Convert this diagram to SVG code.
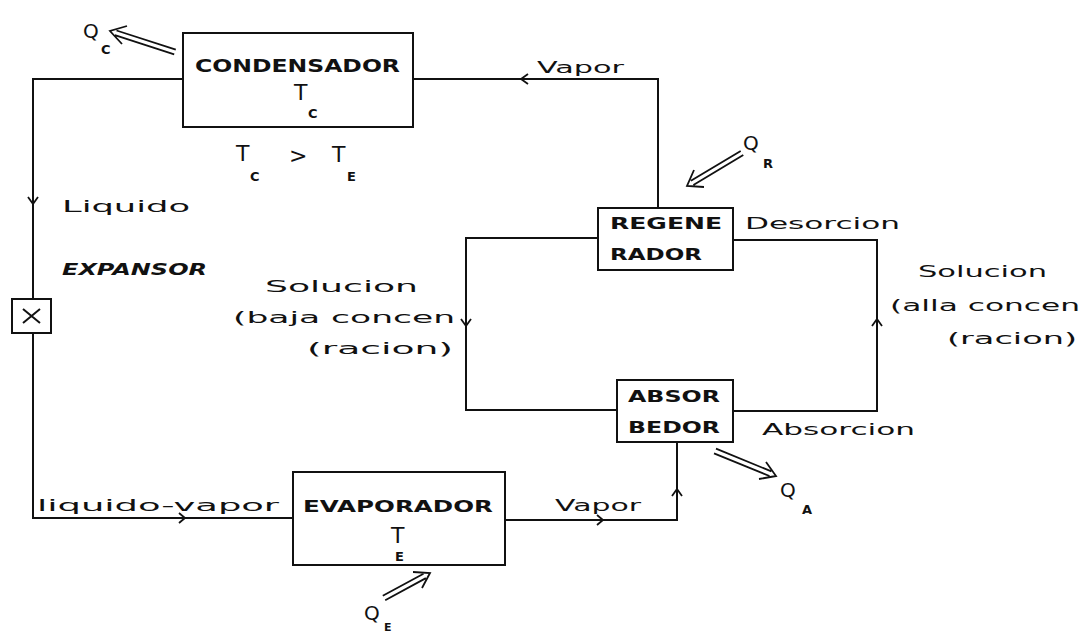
<svg xmlns="http://www.w3.org/2000/svg" width="1085" height="632" viewBox="0 0 1085 632">
<style>
.box{fill:#fff;stroke:#111;stroke-width:2}
.ln{fill:none;stroke:#111;stroke-width:2}
.ah{fill:none;stroke:#111;stroke-width:1.8;stroke-linejoin:miter}
.heat{fill:none;stroke:#111;stroke-width:1.8}
text{font-family:"DejaVu Sans","Liberation Sans",sans-serif;fill:#111;font-weight:bold}
.cap{font-size:17px}
.lab{font-size:16px;font-weight:normal}
.T{font-size:22px;font-weight:normal}
.sub{font-size:13px}
</style>
<rect width="1085" height="632" fill="#fff"/>
<g id="connectors">
<path class="ln" d="M183,79 H33 V299 M33,333 V518 H293"/>
<path class="ln" d="M413,79 H658 V208"/>
<path class="ln" d="M598,238 H466 V410 H617"/>
<path class="ln" d="M733,240 H877 V411 H733"/>
<path class="ln" d="M505,520 H677 V442"/>
<path class="ah" d="M528,74 L521,79 L528,84"/>
<path class="ah" d="M28,197 L33,204 L38,197"/>
<path class="ah" d="M179,513 L185,518 L179,523"/>
<path class="ah" d="M597,515 L603,520 L597,525"/>
<path class="ah" d="M672,496 L677,489 L682,496"/>
<path class="ah" d="M461,319 L466,326 L471,319"/>
<path class="ah" d="M872,326 L877,319 L882,326"/>
</g>
<g id="heat-QC">
<path class="heat" d="M175.8,49.6 L116.5,30.5 M174.2,54.4 L114.9,35.2 M127,26 L110,31 L122,44"/>
<text x="83" y="38" class="T" style="font-size:20px">Q</text>
<text x="101" y="54" class="sub">C</text>
</g>
<g id="heat-QR">
<path class="heat" d="M743.3,155.1 L693.4,185 M740.7,150.9 L690.9,180.8 M704,187 L687,186 L694,170"/>
<text x="743" y="150" class="T" style="font-size:20px">Q</text>
<text x="763" y="168" class="sub">R</text>
</g>
<g id="heat-QA">
<path class="heat" d="M714,453.3 L769.5,476 M716,448.7 L771.4,471.4 M759,479 L776,476 L766,462"/>
<text x="780" y="497" class="T" style="font-size:20px">Q</text>
<text x="802" y="514" class="sub">A</text>
</g>
<g id="heat-QE">
<path class="heat" d="M385.2,600.2 L425.9,578.1 M382.8,595.8 L423.5,573.7 M422,588 L430,573 L413,572"/>
<text x="364" y="620" class="T" style="font-size:20px">Q</text>
<text x="384" y="631" class="sub" style="font-size:11px">E</text>
</g>
<g id="condensador">
<rect class="box" x="183" y="33" width="230" height="94"/>
<text x="195" y="72" class="cap" textLength="205" lengthAdjust="spacingAndGlyphs">CONDENSADOR</text>
<text x="294" y="100" class="T">T</text>
<text x="308" y="118" class="sub">C</text>
</g>
<g id="tc-te">
<text x="236" y="161" class="T">T</text>
<text x="250" y="181" class="sub">C</text>
<text x="289" y="163" class="T">&gt;</text>
<text x="332" y="162" class="T">T</text>
<text x="347" y="181" class="sub">E</text>
</g>
<g id="regenerador">
<rect class="box" x="598" y="208" width="135" height="62"/>
<text x="610" y="229" class="cap" style="font-size:15px" textLength="112" lengthAdjust="spacingAndGlyphs">REGENE</text>
<text x="610" y="260" class="cap" style="font-size:15px" textLength="92" lengthAdjust="spacingAndGlyphs">RADOR</text>
</g>
<g id="absorbedor">
<rect class="box" x="617" y="380" width="116" height="62"/>
<text x="628" y="402" class="cap" style="font-size:15px" textLength="92" lengthAdjust="spacingAndGlyphs">ABSOR</text>
<text x="628" y="433" class="cap" style="font-size:15px" textLength="92" lengthAdjust="spacingAndGlyphs">BEDOR</text>
</g>
<g id="evaporador">
<rect class="box" x="293" y="472" width="212" height="93"/>
<text x="303" y="512" class="cap" style="font-size:16px" textLength="190" lengthAdjust="spacingAndGlyphs">EVAPORADOR</text>
<text x="391" y="543" class="T">T</text>
<text x="395" y="561" class="sub">E</text>
</g>
<g id="expansor">
<rect class="box" x="12" y="299" width="39" height="34"/>
<path class="ln" d="M23,309 L40,323 M40,309 L23,323"/>
<text x="62" y="275" class="cap" style="font-size:15px;font-style:italic" textLength="145" lengthAdjust="spacingAndGlyphs">EXPANSOR</text>
</g>
<g id="labels">
<text x="537" y="73" class="lab" textLength="87" lengthAdjust="spacingAndGlyphs">Vapor</text>
<text x="62" y="212" class="lab" textLength="128" lengthAdjust="spacingAndGlyphs">Liquido</text>
<text x="745" y="229" class="lab" textLength="155" lengthAdjust="spacingAndGlyphs">Desorcion</text>
<text x="265" y="292" class="lab" textLength="153" lengthAdjust="spacingAndGlyphs">Solucion</text>
<text x="233" y="323" class="lab" textLength="222" lengthAdjust="spacingAndGlyphs">(baja concen</text>
<text x="307" y="354" class="lab" textLength="146" lengthAdjust="spacingAndGlyphs">(racion)</text>
<text x="918" y="277" class="lab" textLength="129" lengthAdjust="spacingAndGlyphs">Solucion</text>
<text x="890" y="311" class="lab" textLength="190" lengthAdjust="spacingAndGlyphs">(alla concen</text>
<text x="947" y="344" class="lab" textLength="130" lengthAdjust="spacingAndGlyphs">(racion)</text>
<text x="762" y="435" class="lab" textLength="153" lengthAdjust="spacingAndGlyphs">Absorcion</text>
<text x="37" y="511" class="lab" textLength="242" lengthAdjust="spacingAndGlyphs">liquido-vapor</text>
<text x="555" y="511" class="lab" textLength="86" lengthAdjust="spacingAndGlyphs">Vapor</text>
</g>
</svg>
